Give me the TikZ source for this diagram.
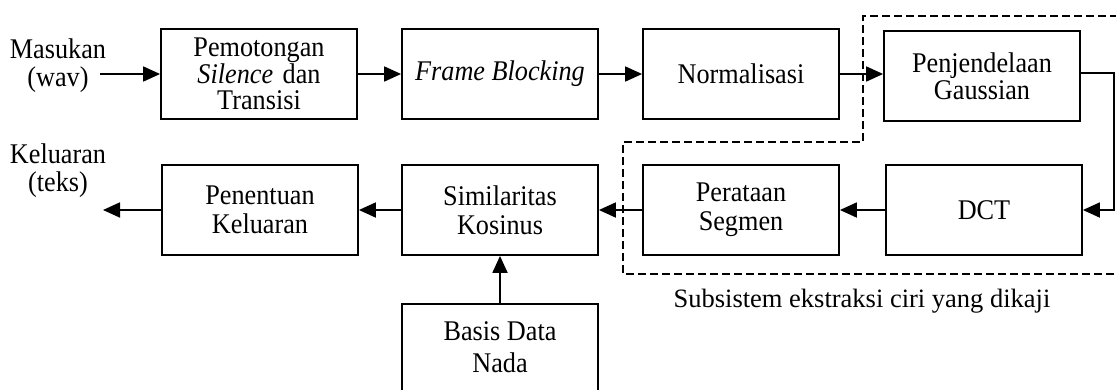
\documentclass[tikz,border=0pt]{standalone}
\usepackage{fontspec}
\setmainfont{Liberation Serif}
\newfontfamily\boxfont{Liberation Serif}[FakeStretch=0.92]
\usetikzlibrary{arrows.meta}
\begin{document}
\begin{tikzpicture}[x=1pt,y=-1pt,
  blk/.style={draw, line width=1.8pt, minimum width=196pt, minimum height=90pt,
    align=center, inner sep=0pt, font=\boxfont\fontsize{28.5}{26.5}\selectfont},
  lbl/.style={align=center, inner sep=0pt, font=\boxfont\fontsize{28.5}{28}\selectfont},
  conn/.style={line width=1.8pt, -{Triangle[length=17pt,width=15pt]}},
  bound/.style={line width=1.6pt, dash pattern=on 8pt off 4pt}]
\useasboundingbox (0,0) rectangle (1116,389);
\clip (0,0) rectangle (1116,389);
% top row
\node[blk] (pot) at (259,74) {Pemotongan\\\textit{Silence}\hspace{3pt} dan\\Transisi};
\node[blk] (fb) at (500,74) {\textit{Frame Blocking}};
\node[blk] (nor) at (741,74) {Normalisasi};
\node[blk] (gau) at (982,76) {Penjendelaan\\Gaussian};
% bottom row
\node[blk, font=\boxfont\fontsize{28.5}{29}\selectfont] (pen) at (260,210) {Penentuan\\Keluaran};
\node[blk, font=\boxfont\fontsize{28.5}{29}\selectfont] (sim) at (500,210) {Similaritas\\Kosinus};
\node[blk, font=\boxfont\fontsize{28.5}{29}\selectfont] (rat) at (741,210) {Perataan\\Segmen};
\node[blk] (dct) at (984,210) {DCT};
\node[blk, minimum height=104pt] (bas) at (500,356) {};
\node[lbl, font=\boxfont\fontsize{28.5}{32}\selectfont] (bast) at (500,347) {Basis Data\\Nada};
% labels
\node[lbl] (in) at (58,66) {Masukan\\(wav)};
\node[lbl] (out) at (58,171) {Keluaran\\(teks)};
\node[lbl, font=\fontsize{26.5}{28}\selectfont] (sub) at (862,301) {Subsistem ekstraksi ciri yang dikaji};
\coordinate (inend) at (100,74);
\coordinate (outend) at (103,210);
\coordinate (rt) at (1114,73);
% connectors
\draw[conn] (inend) -- (pot.west);
\draw[conn] (pot.east) -- (fb.west);
\draw[conn] (fb.east) -- (nor.west);
\draw[conn] (nor.east) -- (gau.west |- nor.east);
\draw[conn] (gau.east |- rt) -- (rt) |- (dct.east);
\draw[conn] (dct.west) -- (rat.east);
\draw[conn] (rat.west) -- (sim.east);
\draw[conn] (sim.west) -- (pen.east);
\draw[conn] (pen.west) -- (outend);
\draw[conn] (bas.north) -- (sim.south);
% dashed boundary
\draw[bound] (1130,16) -- (863,16) -- (863,142) -- (623,142) -- (623,274) -- (1130,274);
\end{tikzpicture}
\end{document}
